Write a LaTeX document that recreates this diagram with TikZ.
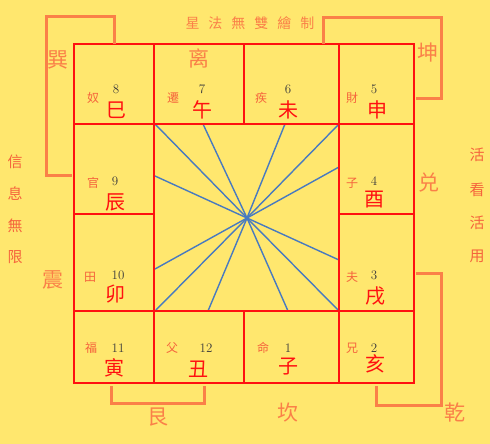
\documentclass[tikz,border=0pt]{standalone}
\usepackage{fontspec}
\newfontfamily\cjk{Noto Sans CJK SC}
\definecolor{bg}{RGB}{255,231,110}
\definecolor{gridred}{RGB}{255,16,16}
\definecolor{brk}{RGB}{250,128,72}
\definecolor{blueln}{RGB}{72,122,192}
\definecolor{numc}{RGB}{60,60,60}
\definecolor{lblc}{RGB}{245,100,60}
\tikzset{
  grid/.style={draw=gridred, line width=2.6pt},
  bracket/.style={draw=brk, line width=3pt},
  ray/.style={draw=blueln, line width=1.4pt},
  palace/.style={text=brk, font=\cjk\fontsize{21}{21}\selectfont, inner sep=0pt},
  branch/.style={text=gridred, font=\cjk\fontsize{20}{20}\selectfont, inner sep=0pt},
  lbl/.style={text=lblc, font=\cjk\fontsize{12}{12}\selectfont, inner sep=0pt},
  num/.style={text=numc, font=\fontsize{13}{13}\selectfont, inner sep=0pt},
  side/.style={text=lblc, font=\cjk\fontsize{15}{15}\selectfont, inner sep=0pt},
  header/.style={text=brk, font=\cjk\fontsize{14}{14}\selectfont, inner sep=0pt}
}
\begin{document}
\begin{tikzpicture}[x=1pt,y=-1pt]
\fill[bg] (0,0) rectangle (490,444);
\useasboundingbox (0,0) rectangle (490,444);
% rays
\coordinate (c) at (247,218);
\foreach \px/\py [count=\i] in {155/124,203/124,285/124,339/124,339/167,339/260,339/311,288/311,208/311,155/311,155/269,155/176}{
  \coordinate (r\i) at (\px,\py);
  \draw[ray] (c) -- (r\i);
}
% grid
\draw[grid] (74,44) rectangle (414,383);
\draw[grid] (74,124) -- (414,124);
\draw[grid] (74,311) -- (414,311);
\draw[grid] (74,214) -- (154,214);
\draw[grid] (339,214) -- (414,214);
\draw[grid] (154,44) -- (154,383);
\draw[grid] (339,44) -- (339,383);
\draw[grid] (244,44) -- (244,124);
\draw[grid] (244,311) -- (244,383);
% brackets
\draw[bracket] (114,44) -- (114,17) -- (46,17) -- (46,175) -- (72,175);
\draw[bracket] (323,44) -- (323,18) -- (441,18) -- (441,98) -- (416,98);
\draw[bracket] (416,273) -- (441,273) -- (441,405) -- (376,405) -- (376,386);
\draw[bracket] (111,386) -- (111,403) -- (204,403) -- (204,386);
% palaces
\node[palace] (xun) at (58,60) {巽};
\node[palace] (li) at (199,58) {离};
\node[palace] (kun) at (428,53) {坤};
\node[palace] (dui) at (429,183) {兑};
\node[palace] (zhen) at (53,280) {震};
\node[palace] (qian) at (455,413) {乾};
\node[palace] (kan) at (288,413) {坎};
\node[palace] (gen) at (158,417) {艮};
% header
\node[header] (hd) at (250,23) {星\hspace{9pt}法\hspace{9pt}無\hspace{9pt}雙\hspace{9pt}繪\hspace{9pt}制};
% side texts
\node[side] (s1) at (15,162) {信};
\node[side] (s2) at (15,194) {息};
\node[side] (s3) at (15,226) {無};
\node[side] (s4) at (15,257) {限};
\node[side] (t1) at (477,155) {活};
\node[side] (t2) at (477,190) {看};
\node[side] (t3) at (477,223) {活};
\node[side] (t4) at (477,256) {用};
% cells: label, number, branch
\node[lbl] (l8) at (93,98) {奴};   \node[num] (n8) at (116,89) {8};   \node[branch] (b8) at (116,110) {巳};
\node[lbl] (l7) at (173,98) {遷};  \node[num] (n7) at (202,89) {7};   \node[branch] (b7) at (202,110) {午};
\node[lbl] (l6) at (261,98) {疾};  \node[num] (n6) at (288,89) {6};   \node[branch] (b6) at (288,110) {未};
\node[lbl] (l5) at (352,98) {財};  \node[num] (n5) at (374,89) {5};   \node[branch] (b5) at (377,110) {申};
\node[lbl] (l9) at (93,183) {官};  \node[num] (n9) at (115,181) {9};  \node[branch] (b9) at (115,202) {辰};
\node[lbl] (l4) at (352,183) {子}; \node[num] (n4) at (374,181) {4};  \node[branch] (b4) at (374,200) {酉};
\node[lbl] (l10) at (90,277) {田}; \node[num] (n10) at (118,275) {10}; \node[branch] (b10) at (115,294) {卯};
\node[lbl] (l3) at (352,277) {夫}; \node[num] (n3) at (374,275) {3};  \node[branch] (b3) at (375,296) {戌};
\node[lbl] (l11) at (91,348) {福}; \node[num] (n11) at (118,348) {11}; \node[branch] (b11) at (114,368) {寅};
\node[lbl] (l12) at (172,348) {父};\node[num] (n12) at (206,348) {12}; \node[branch] (b12) at (198,369) {丑};
\node[lbl] (l1) at (263,348) {命};  \node[num] (n1) at (288,348) {1};  \node[branch] (b1) at (288,367) {子};
\node[lbl] (l2) at (352,348) {兄};  \node[num] (n2) at (374,348) {2};  \node[branch] (b2) at (375,364) {亥};
\end{tikzpicture}
\end{document}
